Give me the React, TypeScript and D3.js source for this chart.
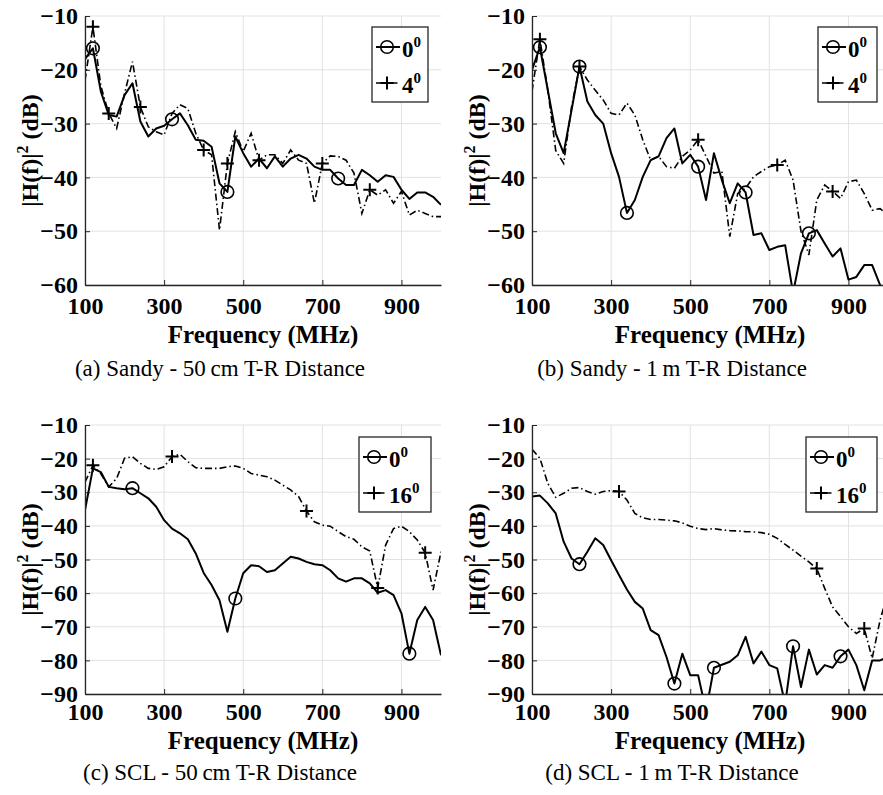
import React, { useEffect, useRef } from 'react';
import * as d3 from 'd3';

// sample frequencies (MHz)
const FREQ = [
  100, 120, 140, 160, 180, 200, 220, 240, 260, 280,
  300, 320, 340, 360, 380, 400, 420, 440, 460, 480,
  500, 520, 540, 560, 580, 600, 620, 640, 660, 680,
  700, 720, 740, 760, 780, 800, 820, 840, 860, 880,
  900, 920, 940, 960, 980, 1000,
];

// (a) Sandy, 50 cm
const sandy50Zero = [
  -18, -16, -24, -28.4, -28.7, -24.7, -22.5, -29.6, -32.4, -30.9,
  -30.4, -29.2, -28.1, -30.3, -33, -33.2, -34.3, -41.1, -42.7, -32.4,
  -35.5, -38, -36.5, -38.3, -36.1, -38, -36.5, -35.8, -36.5, -38,
  -38.6, -38.6, -40.2, -41.4, -41.4, -38.6, -39.6, -40.8, -39.6, -39.9,
  -42.3, -44, -42.8, -42.8, -43.6, -45.1,
];
const sandy50Tilt = [
  -22, -12, -23, -28.1, -30.9, -24.4, -18.5, -26.9, -30.6, -31.5,
  -32.1, -28.1, -26.5, -27.2, -31.8, -34.9, -35.8, -49.8, -37.4, -31.5,
  -35.2, -31.8, -36.8, -35.8, -35.8, -37.4, -34.9, -36.8, -37.4, -44.8,
  -37.4, -36, -36.1, -36.8, -39.2, -46.7, -42.3, -43.3, -42.3, -44.8,
  -42.6, -47, -46.1, -46.7, -47.3, -47.3,
];
const sandy50ZeroMarks = [120, 320, 460, 740];
const sandy50TiltMarks = [120, 160, 240, 400, 460, 540, 700, 820];

// (b) Sandy, 1 m
const sandy1mZero = [
  -20, -15.8, -23.8, -31.8, -35.5, -27.5, -19.4, -25.9, -28.4, -30,
  -35.5, -39.9, -46.6, -44.2, -39.9, -36.8, -36.1, -32.7, -30.9, -37.4,
  -35.8, -38, -44.2, -35.5, -40.5, -44.8, -41.1, -42.8, -50.7, -50.4,
  -53.5, -52.9, -52.6, -61.5, -54.1, -50.4, -49.8, -52.3, -54.7, -53.2,
  -59, -58.5, -56.3, -56.3, -60, -62,
];
const sandy1mTilt = [
  -24, -14.3, -23.8, -35, -37.4, -26.9, -19.4, -21.9, -23.8, -25.6,
  -28.1, -28.4, -26.2, -28.4, -33, -36.8, -36.1, -38, -38.3, -36.1,
  -34.9, -33, -36.1, -39.2, -38.9, -51, -43, -42, -39.9, -38.9,
  -38, -37.7, -36.8, -40.5, -50, -54.4, -44.2, -41.4, -42.6, -43.9,
  -40.8, -40.5, -43, -46.1, -45.8, -47,
];
const sandy1mZeroMarks = [120, 220, 340, 520, 640, 800];
const sandy1mTiltMarks = [120, 220, 520, 720, 860];

// (c) SCL, 50 cm
const scl50Zero = [
  -35.3, -22.9, -24, -28.4, -28.8, -29.1, -28.8, -30.3, -31.8, -34.3,
  -38.3, -40.8, -42.2, -44, -48.2, -54, -57.6, -62.1, -71.5, -61.6,
  -54.1, -51.7, -52, -53.7, -53.2, -51.2, -49.2, -49.7, -50.7, -51.4,
  -51.7, -53.2, -55.6, -56.6, -55.6, -55.6, -57.1, -59.9, -59.1, -60.6,
  -66, -78, -68, -64.1, -68, -78.5,
];
const scl50Tilt = [
  -27, -22, -24.5, -28.4, -25.9, -19.9, -19.4, -21.4, -22.9, -23.2,
  -22.4, -19.4, -18.7, -20.9, -22.7, -22.9, -22.9, -22.9, -22.4, -22.2,
  -22.9, -24.4, -24.9, -25.4, -26.4, -27.9, -29.3, -31.3, -35.6, -38.8,
  -39.8, -40.1, -41.7, -43.2, -44, -46.2, -47.5, -58.5, -45.7, -40.8,
  -40.1, -41.7, -44.2, -48, -59.1, -47.7,
];
const scl50ZeroMarks = [220, 480, 920];
const scl50TiltMarks = [120, 320, 660, 840, 960];

// (d) SCL, 1 m
const scl1mZero = [
  -31.3, -31, -33.3, -36.3, -44.7, -49.7, -51.4, -47.7, -43.7, -45.7,
  -50.2, -54.6, -58.9, -62.6, -64.6, -71, -72.5, -79, -86.9, -78,
  -84.4, -84.4, -95, -82.2, -81.3, -80.4, -78.5, -73, -80.9, -77.4,
  -81.4, -82.4, -93, -75.8, -87.9, -76.8, -84.2, -81.4, -82.2, -78.8,
  -76.8, -81.4, -88.9, -80, -80, -79,
];
const scl1mTilt = [
  -17.2, -19.9, -27.4, -31.5, -30.3, -28.8, -28.6, -29.8, -30.6, -29.8,
  -29.5, -29.8, -32.3, -36.3, -37.6, -38.1, -38.1, -38.3, -38.5, -39.1,
  -40.1, -40.8, -41.1, -40.8, -41.2, -41.4, -41.5, -41.7, -41.8, -42,
  -42.5, -43.7, -45.5, -47.2, -49, -50.7, -52.7, -58.6, -64.1, -67,
  -70, -72, -70.5, -79.4, -68, -60,
];
const scl1mZeroMarks = [220, 460, 560, 760, 880];
const scl1mTiltMarks = [320, 820, 940];

const X_TICKS = [100, 300, 500, 700, 900];
const Y_TICKS_SANDY = [-60, -50, -40, -30, -20, -10];
const Y_TICKS_SCL = [-90, -80, -70, -60, -50, -40, -30, -20, -10];

const FONT = "'Liberation Serif', 'Times New Roman', serif";
const INK = '#262626';

interface Panel {
  id: string;
  zero: number[];
  tilt: number[];
  zeroMarks: number[];
  tiltMarks: number[];
  yTicks: number[];
  tiltAngle: string;
  caption: string;
  left: number;
  right: number;
  top: number;
  bottom: number;
  tickBase: number;
  labelBase: number;
  captionX: number;
  captionBase: number;
  yLabelX: number;
  legend: { x: number; y: number; w: number; h: number };
}

const PANELS: Panel[] = [
  {
    id: 'a', zero: sandy50Zero, tilt: sandy50Tilt, zeroMarks: sandy50ZeroMarks, tiltMarks: sandy50TiltMarks,
    yTicks: Y_TICKS_SANDY, tiltAngle: '4', caption: '(a) Sandy - 50\u2009cm T-R Distance',
    left: 85, right: 441, top: 16, bottom: 285, tickBase: 314, labelBase: 343,
    captionX: 220, captionBase: 376, yLabelX: 38, legend: { x: 372, y: 27, w: 56, h: 75 },
  },
  {
    id: 'b', zero: sandy1mZero, tilt: sandy1mTilt, zeroMarks: sandy1mZeroMarks, tiltMarks: sandy1mTiltMarks,
    yTicks: Y_TICKS_SANDY, tiltAngle: '4', caption: '(b) Sandy - 1\u2009m T-R Distance',
    left: 532, right: 888, top: 16, bottom: 285, tickBase: 314, labelBase: 343,
    captionX: 672, captionBase: 376, yLabelX: 485, legend: { x: 818, y: 27, w: 59, h: 75 },
  },
  {
    id: 'c', zero: scl50Zero, tilt: scl50Tilt, zeroMarks: scl50ZeroMarks, tiltMarks: scl50TiltMarks,
    yTicks: Y_TICKS_SCL, tiltAngle: '16', caption: '(c) SCL - 50\u2009cm T-R Distance',
    left: 85, right: 441, top: 425, bottom: 694, tickBase: 720, labelBase: 749,
    captionX: 220, captionBase: 780, yLabelX: 38, legend: { x: 359, y: 437, w: 72, h: 75 },
  },
  {
    id: 'd', zero: scl1mZero, tilt: scl1mTilt, zeroMarks: scl1mZeroMarks, tiltMarks: scl1mTiltMarks,
    yTicks: Y_TICKS_SCL, tiltAngle: '16', caption: '(d) SCL - 1\u2009m T-R Distance',
    left: 532, right: 888, top: 425, bottom: 694, tickBase: 720, labelBase: 749,
    captionX: 672, captionBase: 780, yLabelX: 485, legend: { x: 806, y: 437, w: 71, h: 75 },
  },
];

const DASH_DOT = '7,3,1.5,3';

export default function App() {
  const svgRef = useRef<SVGSVGElement>(null);

  useEffect(() => {
    if (!svgRef.current) return;
    const svg = d3.select(svgRef.current);
    svg.selectAll('*').remove();

    const plus = 'M-6.5,0H6.5M0,-6.5V6.5';

    PANELS.forEach((p) => {
      const x = d3.scaleLinear().domain([100, 1000]).range([p.left, p.right]);
      const yMin = d3.min(p.yTicks)!;
      const yMax = d3.max(p.yTicks)!;
      const y = d3.scaleLinear().domain([yMin, yMax]).range([p.bottom, p.top]);
      const g = svg.append('g');

      // grid
      g.selectAll('.gx')
        .data(X_TICKS)
        .enter()
        .append('line')
        .attr('x1', (d) => x(d))
        .attr('x2', (d) => x(d))
        .attr('y1', p.top)
        .attr('y2', p.bottom)
        .attr('stroke', '#e2e2e2')
        .attr('stroke-width', 1);
      g.selectAll('.gy')
        .data(p.yTicks)
        .enter()
        .append('line')
        .attr('x1', p.left)
        .attr('x2', p.right)
        .attr('y1', (d) => y(d))
        .attr('y2', (d) => y(d))
        .attr('stroke', '#e2e2e2')
        .attr('stroke-width', 1);

      // clip for the traces
      svg.append('clipPath')
        .attr('id', `clip-${p.id}`)
        .append('rect')
        .attr('x', p.left)
        .attr('y', p.top - 2)
        .attr('width', p.right - p.left)
        .attr('height', p.bottom - p.top + 2);

      const line = d3
        .line<number>()
        .x((_, i) => x(FREQ[i]))
        .y((d) => y(d));

      const traces = g.append('g').attr('clip-path', `url(#clip-${p.id})`);
      traces.append('path')
        .datum(p.tilt)
        .attr('fill', 'none')
        .attr('stroke', '#000')
        .attr('stroke-width', 1.6)
        .attr('stroke-dasharray', DASH_DOT)
        .attr('d', line);
      traces.append('path')
        .datum(p.zero)
        .attr('fill', 'none')
        .attr('stroke', '#000')
        .attr('stroke-width', 2)
        .attr('stroke-linejoin', 'round')
        .attr('d', line);

      // markers
      p.zeroMarks.forEach((f) => {
        const v = p.zero[FREQ.indexOf(f)];
        g.append('circle')
          .attr('cx', x(f))
          .attr('cy', y(v))
          .attr('r', 6.3)
          .attr('fill', 'none')
          .attr('stroke', '#000')
          .attr('stroke-width', 1.6);
      });
      p.tiltMarks.forEach((f) => {
        const v = p.tilt[FREQ.indexOf(f)];
        g.append('path')
          .attr('transform', `translate(${x(f)},${y(v)})`)
          .attr('d', plus)
          .attr('stroke', '#000')
          .attr('stroke-width', 2);
      });

      // axes
      const xAxis = g.append('g')
        .attr('transform', `translate(0,${p.bottom})`)
        .call(d3.axisBottom(x).tickValues(X_TICKS).tickSizeInner(-5).tickSizeOuter(0).tickFormat(d3.format('d')))
        .attr('color', INK);
      xAxis.select('.domain').attr('stroke-width', 1.3);
      xAxis.selectAll('text')
        .attr('y', p.tickBase - p.bottom)
        .attr('dy', null)
        .attr('fill', '#000')
        .style('font-family', FONT)
        .style('font-size', '24px')
        .style('font-weight', 'bold');

      const yAxis = g.append('g')
        .attr('transform', `translate(${p.left},0)`)
        .call(d3.axisLeft(y).tickValues(p.yTicks).tickSizeInner(-5).tickSizeOuter(0).tickPadding(7).tickFormat(d3.format('d')))
        .attr('color', INK);
      yAxis.select('.domain').attr('stroke-width', 1.3);
      yAxis.selectAll('text')
        .attr('fill', '#000')
        .attr('dy', '0.32em')
        .style('font-family', FONT)
        .style('font-size', '24px')
        .style('font-weight', 'bold');

      // axis titles
      g.append('text')
        .attr('x', (p.left + p.right) / 2)
        .attr('y', p.labelBase)
        .attr('text-anchor', 'middle')
        .style('font-family', FONT)
        .style('font-size', '25px')
        .style('font-weight', 'bold')
        .text('Frequency (MHz)');

      const yl = g.append('text')
        .attr('transform', `translate(${p.yLabelX},${(p.top + p.bottom) / 2}) rotate(-90)`)
        .attr('text-anchor', 'middle')
        .style('font-family', FONT)
        .style('font-size', '24px')
        .style('font-weight', 'bold');
      yl.append('tspan').text('|H(f)|');
      yl.append('tspan').attr('dy', -10).style('font-size', '16px').text('2');
      yl.append('tspan').attr('dy', 10).text(' (dB)');

      // caption
      g.append('text')
        .attr('x', p.captionX)
        .attr('y', p.captionBase)
        .attr('text-anchor', 'middle')
        .style('font-family', FONT)
        .style('font-size', '23px')
        .text(p.caption);

      // legend
      const lg = g.append('g').attr('transform', `translate(${p.legend.x},${p.legend.y})`);
      lg.append('rect')
        .attr('width', p.legend.w)
        .attr('height', p.legend.h)
        .attr('fill', '#fff')
        .attr('stroke', INK)
        .attr('stroke-width', 1.3);
      const rows = [
        { label: '0', dash: null as string | null, marker: 'circle', y: 20 },
        { label: p.tiltAngle, dash: DASH_DOT, marker: 'plus', y: 56 },
      ];
      rows.forEach((r) => {
        lg.append('line')
          .attr('x1', 4)
          .attr('x2', 28)
          .attr('y1', r.y)
          .attr('y2', r.y)
          .attr('stroke', '#000')
          .attr('stroke-width', r.dash ? 1.6 : 2)
          .attr('stroke-dasharray', r.dash);
        if (r.marker === 'circle') {
          lg.append('circle')
            .attr('cx', 15)
            .attr('cy', r.y)
            .attr('r', 6.3)
            .attr('fill', 'none')
            .attr('stroke', '#000')
            .attr('stroke-width', 1.6);
        } else {
          lg.append('path')
            .attr('transform', `translate(15,${r.y})`)
            .attr('d', plus)
            .attr('stroke', '#000')
            .attr('stroke-width', 2);
        }
        const t = lg.append('text')
          .attr('x', 30)
          .attr('y', r.y + 10)
          .style('font-family', FONT)
          .style('font-size', '23px')
          .style('font-weight', 'bold');
        t.append('tspan').text(r.label);
        t.append('tspan').attr('dy', -10).style('font-size', '15px').text('0');
      });
    });
  }, []);

  return (
    <svg
      ref={svgRef}
      width={883}
      height={795}
      style={{ position: 'absolute', left: 0, top: 0, background: '#fff' }}
    />
  );
}
